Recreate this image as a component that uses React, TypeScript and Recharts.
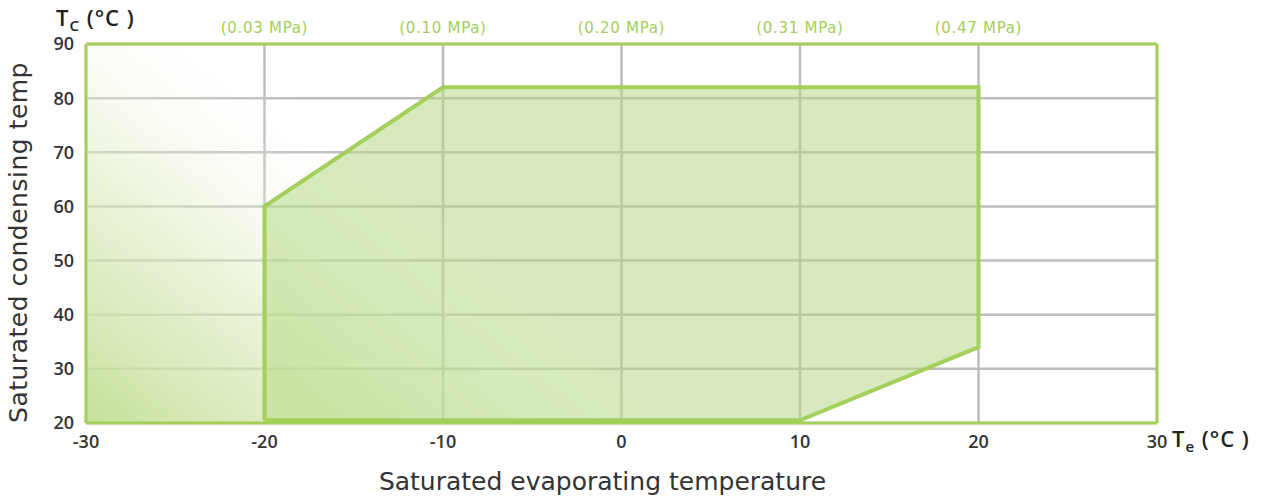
import React from 'react';
import {
  ComposedChart, Area, Scatter, XAxis, YAxis, CartesianGrid, ReferenceArea,
} from 'recharts';

// ---- data ----
const xTicks = [-30, -20, -10, 0, 10, 20, 30];
const yTicks = [20, 30, 40, 50, 60, 70, 80, 90];
const topPressureTemps = [-20, -10, 0, 10, 20];
const topPressureLabels = ['(0.03 MPa)', '(0.10 MPa)', '(0.20 MPa)', '(0.31 MPa)', '(0.47 MPa)'];
const rightPressureTemps = [30, 40, 50, 60, 70];
const rightPressureLabels = ['(0.67 MPa)', '(0.91 MPa)', '(1.22 MPa)', '(1.58 MPa)', '(2.02 MPa)'];

// envelope fill (range area)
const fillTe = [-20, -10, 10, 20];
const fillLow = [20.5, 20.5, 20.5, 34];
const fillHigh = [60, 82, 82, 82];

// envelope outline (closed polygon, in drawing order)
const outlineTe = [-20, -20, -10, 20, 20, 10, -20];
const outlineTc = [20.5, 60, 82, 82, 34, 20.5, 20.5];

const fillData = fillTe.map((x, i) => ({ x, range: [fillLow[i], fillHigh[i]] }));
const outlineData = outlineTe.map((x, i) => ({ x, y: outlineTc[i] }));

const GREEN = '#a3cf5a';
const GRID = '#bdbdbd';
const TEXT = '#333333';
const FONT = '"Open Sans", "Noto Sans", sans-serif';
const WIDE = '"DejaVu Sans", "Open Sans", sans-serif';

const W = 1274;
const H = 499;

export default function App() {
  const topMap: Record<number, string> = {};
  topPressureTemps.forEach((t, i) => { topMap[t] = topPressureLabels[i]; });
  const rightMap: Record<number, string> = {};
  rightPressureTemps.forEach((t, i) => { rightMap[t] = rightPressureLabels[i]; });

  return (
    <div style={{ position: 'absolute', left: 0, top: 0, width: W, height: H, background: '#fff', fontFamily: FONT }}>
      <ComposedChart width={W} height={H} data={fillData} margin={{ top: 0, right: 0, bottom: 0, left: 0 }}>
        <defs>
          <linearGradient id="bgGrad" gradientUnits="userSpaceOnUse" x1={86} y1={423} x2={330} y2={120}>
            <stop offset="0%" stopColor="#c3de94" stopOpacity={0.95} />
            <stop offset="50%" stopColor="#dcebc0" stopOpacity={0.6} />
            <stop offset="100%" stopColor="#ffffff" stopOpacity={0} />
          </linearGradient>
        </defs>
        <ReferenceArea x1={-30} x2={30} y1={20} y2={90} fill="url(#bgGrad)" fillOpacity={1} stroke="none" ifOverflow="hidden" />
        <CartesianGrid stroke={GRID} strokeWidth={2.5} horizontalValues={yTicks} verticalValues={xTicks} />
        <XAxis
          type="number"
          dataKey="x"
          domain={[-30, 30]}
          ticks={xTicks}
          height={76}
          axisLine={{ stroke: GREEN, strokeWidth: 3 }}
          tickLine={false}
          tick={{ fill: TEXT, fontSize: 18, fontWeight: 600, fontFamily: FONT }}
          tickMargin={6}
          label={{ value: 'Saturated evaporating temperature', position: 'insideBottom', offset: 9, dx: -19, fill: TEXT, fontSize: 25, fontFamily: WIDE }}
        />
        <XAxis
          xAxisId="top"
          orientation="top"
          type="number"
          dataKey="x"
          domain={[-30, 30]}
          ticks={topPressureTemps}
          height={44}
          tickFormatter={(v: number) => topMap[v] ?? ''}
          axisLine={{ stroke: GREEN, strokeWidth: 3 }}
          tickLine={false}
          tick={{ fill: GREEN, fontSize: 15, fontFamily: WIDE, letterSpacing: 0.7 }}
          tickMargin={5}
        />
        <YAxis
          type="number"
          domain={[20, 90]}
          ticks={yTicks}
          axisLine={{ stroke: GREEN, strokeWidth: 3 }}
          tickLine={false}
          tick={{ fill: TEXT, fontSize: 18, fontWeight: 600, fontFamily: FONT }}
          tickMargin={6}
          width={86}
          label={{ value: 'Saturated condensing temp', angle: -90, position: 'insideLeft', offset: 18, dy: 9, fill: TEXT, fontSize: 25, fontFamily: WIDE, style: { textAnchor: 'middle', letterSpacing: 0.5 } }}
        />
        <YAxis
          yAxisId="right"
          orientation="right"
          type="number"
          domain={[20, 90]}
          ticks={rightPressureTemps}
          tickFormatter={(v: number) => rightMap[v] ?? ''}
          axisLine={{ stroke: GREEN, strokeWidth: 3 }}
          tickLine={false}
          tick={{ fill: GREEN, fontSize: 15, fontFamily: WIDE, textAnchor: 'start', letterSpacing: 0.7 }}
          tickMargin={4}
          width={117}
        />
        <Area
          type="linear"
          dataKey="range"
          stroke="none"
          fill="#b8d886"
          fillOpacity={0.55}
          isAnimationActive={false}
          dot={false}
          activeDot={false}
        />
        <Scatter
          data={outlineData}
          dataKey="y"
          line={{ stroke: GREEN, strokeWidth: 4 }}
          lineJointType="linear"
          shape={() => <g />}
          isAnimationActive={false}
        />
      </ComposedChart>
      <div style={{ position: 'absolute', left: 56, top: 2, color: '#222', fontSize: 22, fontWeight: 600, fontFamily: FONT, letterSpacing: 1, whiteSpace: 'nowrap' }}>
        T<sub style={{ fontSize: 15 }}>C</sub> (°C )
      </div>
      <div style={{ position: 'absolute', left: 1172, top: 423, color: '#222', fontSize: 22, fontWeight: 600, fontFamily: FONT, letterSpacing: 1, whiteSpace: 'nowrap' }}>
        T<sub style={{ fontSize: 15 }}>e</sub> (°C )
      </div>
    </div>
  );
}
